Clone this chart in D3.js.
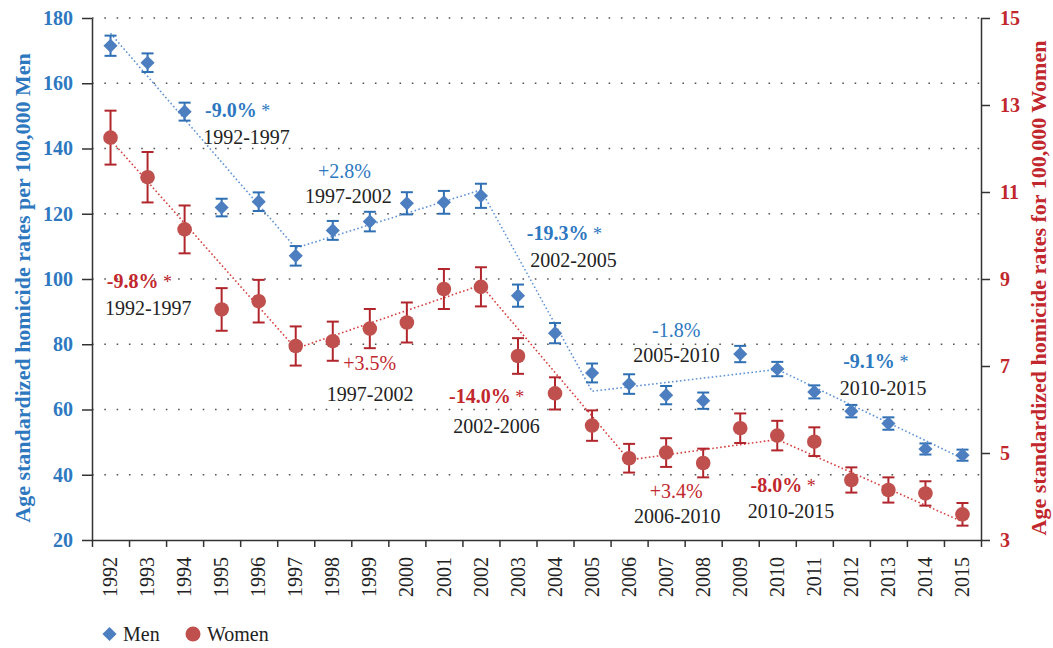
<!DOCTYPE html>
<html>
<head>
<meta charset="utf-8">
<script src="https://cdn.jsdelivr.net/npm/d3@7"></script>
<style>
  body { margin: 0; background: #fff; }
  text { font-family: "Liberation Serif", "DejaVu Serif", serif; }
</style>
</head>
<body>
<script>
var years = [1992, 1993, 1994, 1995, 1996, 1997, 1998, 1999, 2000, 2001, 2002, 2003,
             2004, 2005, 2006, 2007, 2008, 2009, 2010, 2011, 2012, 2013, 2014, 2015];

// rates per 100,000 with half-width of the error bar
var menRate = [171.5, 166.3, 151.3, 121.9, 123.7, 107.1, 114.9, 117.6, 123.2, 123.5, 125.5, 94.9,
               83.4, 71.2, 67.8, 64.4, 62.7, 77.0, 72.4, 65.4, 59.5, 55.7, 47.9, 46.0];
var menErr = [3.1, 2.85, 2.75, 2.7, 2.85, 3.0, 2.9, 3.0, 3.4, 3.5, 3.7, 3.4,
              3.1, 2.9, 3.0, 2.8, 2.5, 2.5, 2.2, 2.0, 1.9, 1.9, 1.7, 1.7];
var womenRate = [12.25, 11.34, 10.14, 8.30, 8.49, 7.46, 7.57, 7.86, 8.00, 8.77, 8.82, 7.23,
                 6.37, 5.63, 4.88, 5.01, 4.77, 5.57, 5.40, 5.26, 4.38, 4.15, 4.07, 3.59];
var womenErr = [0.62, 0.58, 0.55, 0.49, 0.49, 0.45, 0.45, 0.45, 0.46, 0.46, 0.45, 0.41,
                0.37, 0.35, 0.33, 0.33, 0.33, 0.34, 0.34, 0.33, 0.29, 0.29, 0.28, 0.26];

// joinpoint trend lines
var menTrend = [[1992, 175.3], [1997, 109.5], [2002, 127.3], [2005, 65.6], [2010, 72.3], [2015, 45.0]];
var womenTrend = [[1992, 12.2], [1997, 7.4], [2002, 8.86], [2006, 4.84], [2010, 5.31], [2015, 3.42]];

var leftTicks = [20, 40, 60, 80, 100, 120, 140, 160, 180];
var rightTicks = [3, 5, 7, 9, 11, 13, 15];

// annotations: change, significant, period, [year, value] of change label, [year, value] of period label
var menNotes = [
  ["-9.0%", true, "1992-1997", [1994.55, 149.6], [1994.5, 141.4]],
  ["+2.8%", false, "1997-2002", [1997.6, 130.9], [1997.25, 123.3]],
  ["-19.3%", true, "2002-2005", [2003.24, 111.9], [2003.33, 103.65]],
  ["-1.8%", false, "2005-2010", [2006.62, 82.2], [2006.11, 74.5]],
  ["-9.1%", true, "2010-2015", [2011.78, 72.7], [2011.69, 64.4]]
];
var womenNotes = [
  ["-9.8%", true, "1992-1997", [1991.9, 8.79], [1991.85, 8.17]],
  ["+3.5%", false, "1997-2002", [1998.28, 6.91], [1997.84, 6.19]],
  ["-14.0%", true, "2002-2006", [2001.14, 6.15], [2001.25, 5.46]],
  ["+3.4%", false, "2006-2010", [2006.56, 3.96], [2006.13, 3.39]],
  ["-8.0%", true, "2010-2015", [2009.28, 4.10], [2009.2, 3.50]]
];

var blue = "#2e78bf", blueMark = "#4d7ebf", blueErr = "#2f6fb3", blueLine = "#5f93d3";
var red = "#c1272d", redMark = "#c0504d", redErr = "#b1262c", redLine = "#d4413f";

var w = 1053, h = 648;
var margin = { top: 18, right: 72, bottom: 108, left: 92 };
var width = w - margin.left - margin.right;
var height = h - margin.top - margin.bottom;

var svg = d3.select("body").append("svg")
  .attr("width", w).attr("height", h)
  .append("g")
  .attr("transform", `translate(${margin.left},${margin.top})`);

var x = d3.scaleBand().domain(years).range([0, width]);
var xPos = d3.scaleLinear().domain([1991.5, 2015.5]).range([0, width]);
var xEdges = d3.scaleLinear().domain([0, years.length]).range([0, width]);
var yL = d3.scaleLinear().domain([20, 180]).range([height, 0]);
var yR = d3.scaleLinear().domain([3, 15]).range([height, 0]);

// dotted grid at left ticks
svg.append("g")
  .selectAll("line")
  .data(leftTicks.slice(1))
  .enter().append("line")
  .attr("x1", 0).attr("x2", width)
  .attr("y1", d => yL(d)).attr("y2", d => yL(d))
  .attr("stroke", "#555").attr("stroke-width", 1.3)
  .attr("stroke-dasharray", "1.6,10.7");

// axes
svg.append("g")
  .attr("transform", `translate(0,${height})`)
  .call(d3.axisBottom(xEdges).tickValues(d3.range(years.length + 1)).tickFormat("").tickSize(7).tickSizeOuter(0));

var xl = svg.append("g")
  .attr("transform", `translate(0,${height})`)
  .call(d3.axisBottom(x).tickSize(0));
xl.select(".domain").remove();
xl.selectAll("text")
  .attr("transform", "rotate(-90)")
  .attr("text-anchor", "end")
  .attr("x", -17).attr("y", 0).attr("dy", "0.33em")
  .attr("font-size", 20).attr("fill", "#222")
  .style("font-family", "Liberation Serif");

var la = svg.append("g")
  .call(d3.axisLeft(yL).tickValues(leftTicks).tickSize(10).tickPadding(9).tickSizeOuter(0));
la.selectAll("text").attr("font-size", 20).attr("font-weight", "bold").attr("fill", blue)
  .style("font-family", "Liberation Serif");

var ra = svg.append("g")
  .attr("transform", `translate(${width},0)`)
  .call(d3.axisRight(yR).tickValues(rightTicks).tickSize(9).tickPadding(10).tickSizeOuter(0));
ra.selectAll("text").attr("font-size", 20).attr("font-weight", "bold").attr("fill", red)
  .style("font-family", "Liberation Serif");

svg.selectAll(".domain, .tick line").attr("stroke", "#333").attr("stroke-width", 1.5);

// axis titles
svg.append("text")
  .attr("transform", `translate(${-margin.left + 22},${height / 2 + 9}) rotate(-90)`)
  .attr("text-anchor", "middle").attr("dy", "0.35em")
  .attr("font-size", 22).attr("font-weight", "bold").attr("fill", blue)
  .text("Age standardized homicide rates per 100,000 Men");

svg.append("text")
  .attr("transform", `translate(${width + 57},${height / 2 + 9}) rotate(-90)`)
  .attr("text-anchor", "middle").attr("dy", "0.35em")
  .attr("font-size", 22).attr("font-weight", "bold").attr("fill", red)
  .text("Age standardized homicide rates for 100,000 Women");

// trend lines
var lineL = d3.line().x(d => xPos(d[0])).y(d => yL(d[1]));
var lineR = d3.line().x(d => xPos(d[0])).y(d => yR(d[1]));

svg.append("path").datum(menTrend).attr("d", lineL)
  .attr("fill", "none").attr("stroke", blueLine).attr("stroke-width", 1.6)
  .attr("stroke-dasharray", "1.6,2.4");
svg.append("path").datum(womenTrend).attr("d", lineR)
  .attr("fill", "none").attr("stroke", redLine).attr("stroke-width", 1.6)
  .attr("stroke-dasharray", "1.6,2.4");

var cx = d => x(d) + x.bandwidth() / 2;

function errorBars(rates, errs, scale, color) {
  var g = svg.append("g").attr("stroke", color).attr("stroke-width", 2).attr("fill", "none");
  years.forEach(function (yr, i) {
    var top = scale(rates[i] + errs[i]), bot = scale(rates[i] - errs[i]);
    g.append("line").attr("x1", cx(yr)).attr("x2", cx(yr)).attr("y1", top).attr("y2", bot);
    g.append("line").attr("x1", cx(yr) - 6).attr("x2", cx(yr) + 6).attr("y1", top).attr("y2", top);
    g.append("line").attr("x1", cx(yr) - 6).attr("x2", cx(yr) + 6).attr("y1", bot).attr("y2", bot);
  });
}

errorBars(menRate, menErr, yL, blueErr);
errorBars(womenRate, womenErr, yR, redErr);

var diamond = d3.symbol().type(d3.symbolSquare).size(100);

svg.selectAll(".men")
  .data(years)
  .enter().append("path")
  .attr("class", "men")
  .attr("d", diamond)
  .attr("transform", (d, i) => `translate(${cx(d)},${yL(menRate[i])}) rotate(45)`)
  .attr("fill", blueMark);

svg.selectAll(".women")
  .data(years)
  .enter().append("circle")
  .attr("class", "women")
  .attr("cx", d => cx(d))
  .attr("cy", (d, i) => yR(womenRate[i]))
  .attr("r", 7.3)
  .attr("fill", redMark);

// annotations
function notes(list, scale, color) {
  list.forEach(function (n) {
    var t = svg.append("text")
      .attr("x", xPos(n[3][0])).attr("y", scale(n[3][1]))
      .attr("font-size", 20).attr("fill", color)
      .attr("font-weight", n[1] ? "bold" : "normal");
    t.append("tspan").text(n[0]);
    if (n[1]) t.append("tspan").attr("font-weight", "normal").attr("font-size", 18).text(" *");
    svg.append("text")
      .attr("x", xPos(n[4][0])).attr("y", scale(n[4][1]))
      .attr("font-size", 20).attr("fill", "#222")
      .text(n[2]);
  });
}
notes(menNotes, yL, blue);
notes(womenNotes, yR, red);

// legend
var legend = svg.append("g").attr("transform", `translate(0,${height + 94})`);
legend.append("path").attr("d", diamond)
  .attr("transform", `translate(${x(1992) + x.bandwidth() / 2 - 1},0) rotate(45)`)
  .attr("fill", blueMark);
legend.append("text").attr("x", 31).attr("y", 7)
  .attr("font-size", 20).attr("fill", "#222").text("Men");
legend.append("circle").attr("cx", 101).attr("cy", 0).attr("r", 7.5).attr("fill", redMark);
legend.append("text").attr("x", 115).attr("y", 7)
  .attr("font-size", 20).attr("fill", "#222").text("Women");
</script>
</body>
</html>
